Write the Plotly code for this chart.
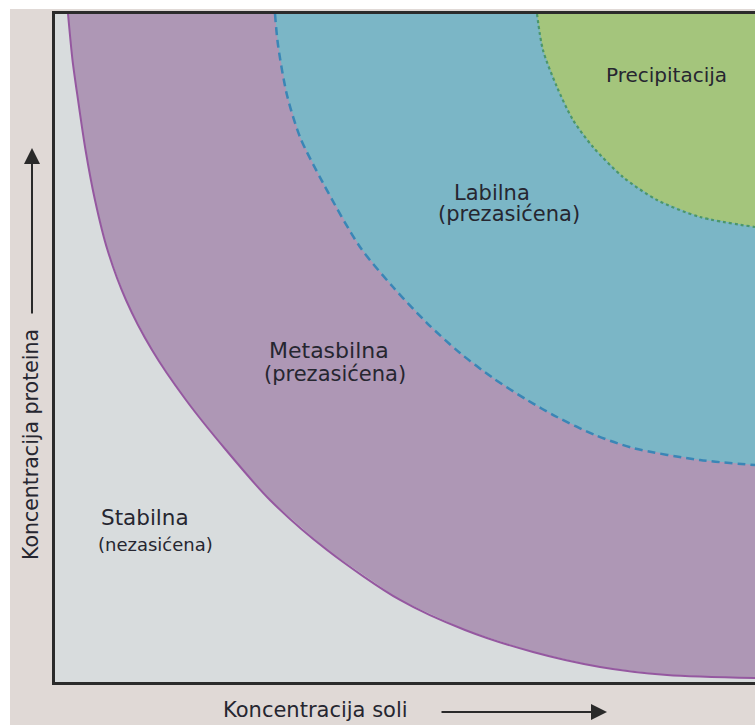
import plotly.graph_objects as go

# Boundary curves (reference pixel positions),
# converted to (salt concentration, protein concentration) in arbitrary units 0-100
meta_px = [68, 72.5, 78, 85.5, 95, 107.5, 126, 152, 186, 226, 270, 327, 400, 465, 533, 600, 667, 755]
meta_py = [14, 60, 100, 150, 200, 250, 300, 350, 400, 450, 500, 550, 600, 630, 652, 667, 675, 678]

lab_px = [275, 278, 287, 300, 323, 360, 393, 427, 460, 493, 527, 557, 595, 633, 700, 755]
lab_py = [14, 45, 95, 137, 183, 247, 287, 323, 353, 378, 400, 417, 435, 448, 460, 465]

prec_px = [537, 543, 557, 573, 593, 623, 657, 700, 755]
prec_py = [14, 50, 87, 120, 147, 177, 200, 217, 227]

def to_salt(p):
    return (p - 55) / 7.0

def to_protein(p):
    return (682 - p) / 6.68

meta_x = [round(to_salt(v), 2) for v in meta_px]
meta_y = [round(to_protein(v), 2) for v in meta_py]
lab_x = [round(to_salt(v), 2) for v in lab_px]
lab_y = [round(to_protein(v), 2) for v in lab_py]
prec_x = [round(to_salt(v), 2) for v in prec_px]
prec_y = [round(to_protein(v), 2) for v in prec_py]

corner_x = 100.0
corner_y = 100.0

x_title = "Koncentracija soli"
y_title = "Koncentracija proteina"

FONT = "DejaVu Sans"
TXT = "#262630"

fig = go.Figure()

regions = [
    (meta_x, meta_y, "#ae97b5", dict(color="#9558a0", width=2, dash="solid")),
    (lab_x, lab_y, "#7bb6c6", dict(color="#3a86b6", width=2.5, dash="8px,5px")),
    (prec_x, prec_y, "#a4c57c", dict(color="#4b966a", width=2.2, dash="dot")),
]
for xs, ys, fillc, ln in regions:
    fig.add_trace(go.Scatter(x=xs + [corner_x], y=ys + [corner_y], mode="lines",
                             fill="toself", fillcolor=fillc, line=dict(width=0),
                             hoverinfo="skip", showlegend=False))
    fig.add_trace(go.Scatter(x=xs, y=ys, mode="lines", line=ln,
                             line_shape="spline", line_smoothing=0.8,
                             hoverinfo="skip", showlegend=False))

def px(p):
    return (p - 55) / 700.0

def py(p):
    return (682 - p) / 668.0

annotations = []
labels = [
    ("Precipitacija", 605, 74.5, 20),
    ("Labilna", 453, 193, 21),
    ("(prezasićena)", 437, 214, 21),
    ("Metasbilna", 268, 350, 22),
    ("(prezasićena)", 263, 374, 21),
    ("Stabilna", 100, 517.5, 21.5),
    ("(nezasićena)", 97, 544, 18),
]
for t, xx, yy, fs in labels:
    annotations.append(dict(text=t, x=px(xx) - 0.002, y=py(yy), xref="paper", yref="paper",
                            xanchor="left", yanchor="middle", showarrow=False,
                            font=dict(family=FONT, size=fs, color=TXT)))

annotations.append(dict(text=x_title, x=px(315), y=py(710), xref="paper", yref="paper",
                        xanchor="center", yanchor="middle", showarrow=False,
                        font=dict(family=FONT, size=21, color=TXT)))
annotations.append(dict(text=y_title, x=px(31), y=py(445), xref="paper", yref="paper",
                        xanchor="center", yanchor="middle", showarrow=False, textangle=-90,
                        font=dict(family=FONT, size=20.5, color=TXT)))
# arrows
annotations.append(dict(text="", x=px(607), y=py(712), xref="paper", yref="paper",
                        ax=-167, ay=0, showarrow=True, arrowhead=2, arrowsize=1.6,
                        arrowwidth=2, arrowcolor="#2a2a2a"))
annotations.append(dict(text="", x=px(32), y=py(148), xref="paper", yref="paper",
                        ax=0, ay=167, showarrow=True, arrowhead=2, arrowsize=1.6,
                        arrowwidth=2, arrowcolor="#2a2a2a"))

shapes = [
    dict(type="rect", xref="paper", yref="paper", x0=px(10), x1=px(760), y0=py(725), y1=py(9),
         fillcolor="#e0d9d6", line=dict(width=0), layer="below"),
    dict(type="rect", xref="paper", yref="paper", x0=0, x1=1, y0=0, y1=1,
         fillcolor="#d8dcdd", line=dict(width=0), layer="below"),
]

fig.update_layout(
    width=755, height=727,
    margin=dict(l=55, r=0, t=14, b=45),
    paper_bgcolor="white",
    plot_bgcolor="rgba(0,0,0,0)",
    xaxis=dict(range=[0, 100], showgrid=False, zeroline=False, showticklabels=False,
               ticks="", showline=True, linewidth=3, linecolor="#2b2b2b", mirror=True,
               fixedrange=True),
    yaxis=dict(range=[0, 100], showgrid=False, zeroline=False, showticklabels=False,
               ticks="", showline=True, linewidth=3, linecolor="#2b2b2b", fixedrange=True),
    annotations=annotations,
    shapes=shapes,
    hovermode=False,
)

fig.write_html("out.html", config={"displayModeBar": False},
               post_script="document.body.style.margin='0';document.body.style.overflow='hidden';")
